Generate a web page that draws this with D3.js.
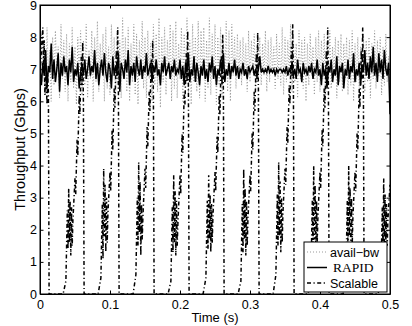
<!DOCTYPE html>
<html>
<head>
<meta charset="utf-8">
<script src="https://cdn.jsdelivr.net/npm/d3@7"></script>
<style>
  body { margin: 0; background: #fff; }
  svg { display: block; }
  text { font-family: "Liberation Sans", Arial, Helvetica, sans-serif; }
</style>
</head>
<body>
<svg id="chart"></svg>
<script>
// sampled every 2 ms from 0 to 0.5 s
const sampleStep = 0.002

const availBw = [
  7.0, 8.1, 6.6, 7.8, 6.2, 8.3, 6.8, 7.6, 6.0, 8.0,
  6.5, 8.2, 6.9, 7.7, 6.1, 8.4, 6.7, 7.9, 6.3, 8.1,
  6.0, 7.8, 6.6, 8.3, 6.4, 7.7, 5.9, 8.0, 6.8, 8.2,
  6.2, 7.9, 6.5, 8.4, 6.1, 7.6, 6.7, 8.2, 6.0, 8.0,
  6.6, 8.5, 6.3, 7.8, 6.9, 8.1, 6.0, 8.3, 6.4, 7.7,
  6.2, 8.4, 6.8, 8.0, 5.9, 8.2, 6.5, 7.9, 6.1, 8.6,
  6.7, 8.0, 6.3, 8.3, 6.0, 7.8, 6.6, 8.4, 6.2, 8.1,
  5.9, 7.9, 6.8, 8.5, 6.4, 8.0, 6.1, 8.2, 6.7, 7.8,
  6.0, 8.4, 6.5, 8.1, 6.3, 8.6, 5.8, 8.0, 6.6, 8.3,
  6.2, 7.9, 6.9, 8.4, 6.0, 8.2, 6.4, 8.5, 6.1, 7.8,
  6.7, 8.3, 6.0, 8.1, 6.5, 8.6, 6.2, 7.9, 5.9, 8.4,
  6.6, 8.0, 6.3, 8.5, 6.1, 8.2, 6.8, 8.3, 6.0, 7.9,
  6.4, 8.6, 6.2, 8.1, 6.7, 8.4, 5.9, 8.0, 6.5, 8.3,
  6.1, 7.9, 6.6, 8.5, 6.3, 8.2, 6.0, 8.4, 6.8, 8.0,
  6.4, 8.1, 6.7, 7.9, 6.5, 8.0, 6.8, 7.8, 6.3, 8.2,
  6.6, 7.9, 6.9, 8.1, 6.4, 7.7, 6.7, 8.0, 6.5, 7.8,
  6.8, 8.2, 6.3, 7.9, 6.6, 8.0, 6.9, 7.7, 6.4, 8.1,
  6.7, 7.8, 6.5, 8.3, 6.2, 8.0, 6.6, 7.9, 6.8, 8.4,
  6.3, 8.0, 6.6, 7.8, 6.1, 8.2, 6.7, 7.9, 6.4, 8.0,
  6.0, 7.8, 6.5, 8.1, 6.8, 7.7, 6.2, 8.0, 6.6, 8.2,
  6.3, 7.9, 6.7, 8.1, 6.0, 7.8, 6.5, 8.2, 6.4, 7.7,
  6.8, 8.0, 6.1, 7.9, 6.6, 8.1, 6.3, 7.8, 6.7, 8.0,
  6.2, 7.9, 6.5, 8.2, 6.0, 7.8, 6.6, 8.0, 6.4, 7.7,
  6.9, 8.1, 6.3, 7.9, 6.6, 8.0, 6.1, 7.8, 6.7, 8.2,
  6.4, 7.9, 6.8, 8.0, 6.2, 7.7, 6.5, 8.1, 6.6, 7.4,
  6.0
]

const rapid = [
  7.0, 6.5, 7.2, 6.8, 7.6, 6.4, 7.1, 6.9, 7.8, 6.7,
  7.3, 6.6, 7.0, 7.5, 6.3, 7.2, 6.8, 7.4, 6.9, 7.1,
  6.5, 7.3, 6.9, 7.7, 6.6, 7.0, 6.8, 7.2, 6.4, 6.9,
  7.1, 6.8, 7.3, 6.7, 7.0, 7.4, 6.8, 7.1, 6.9, 7.6,
  6.7, 7.2, 6.5, 7.0, 7.3, 6.8, 7.5, 6.9, 6.6, 7.2,
  7.0, 6.4, 7.4, 6.8, 7.1, 6.9, 7.5, 6.3, 7.2, 7.0,
  6.7, 7.3, 6.9, 7.6, 6.5, 7.1, 6.8, 7.2, 6.6, 7.4,
  7.0, 6.8, 7.3, 6.7, 7.1, 6.9, 7.5, 6.8, 7.0, 7.2,
  6.6, 7.1, 6.9, 7.3, 6.8, 7.0, 6.5, 7.2, 6.9, 7.4,
  6.8, 7.0, 7.2, 6.7, 7.1, 6.9, 7.3, 6.8, 7.0, 6.9,
  7.3, 6.7, 7.1, 6.5, 7.2, 6.9, 7.5, 6.6, 7.0, 6.8,
  7.4, 6.6, 7.2, 6.9, 6.5, 7.1, 6.8, 7.3, 6.7, 7.0,
  6.6, 7.2, 6.9, 7.4, 6.7, 7.1, 6.5, 7.0, 6.8, 7.3,
  6.9, 7.5, 6.6, 7.0, 6.8, 7.2, 6.7, 7.1, 6.9, 7.3,
  6.8, 7.1, 6.7, 7.0, 6.9, 7.2, 6.8, 7.0, 6.7, 7.1,
  6.9, 7.0, 7.1, 6.8, 7.0, 6.8, 7.0, 7.4, 6.9, 7.0,
  6.9, 7.0, 6.9, 7.1, 6.9, 7.0, 6.9, 7.0, 6.8, 7.0,
  6.9, 7.0, 7.0, 6.9, 7.0, 6.9, 7.1, 6.8, 7.0, 6.9,
  7.2, 6.8, 7.0, 6.7, 7.3, 6.9, 7.0, 6.6, 7.2, 6.9,
  7.0, 6.8, 7.1, 6.9, 7.2, 6.7, 7.0, 6.9, 7.3, 6.8,
  7.0, 6.5, 7.2, 6.8, 7.0, 6.4, 7.1, 6.9, 7.3, 6.6,
  7.0, 6.8, 7.4, 6.5, 7.1, 6.9, 7.2, 6.4, 7.0, 6.8,
  7.3, 6.7, 7.1, 6.9, 7.5, 6.6, 7.0, 6.8, 7.2, 6.5,
  7.1, 6.9, 7.6, 6.8, 7.2, 6.7, 7.4, 6.9, 7.7, 6.8,
  7.2, 6.6, 7.5, 6.9, 7.3, 6.7, 7.6, 7.0, 6.8, 7.2,
  5.6
]

// Scalable TCP, irregular samples (time in s, throughput in Gbps)
const scalableTime = [
  0, 0.002, 0.004, 0.005, 0.006, 0.007, 0.008, 0.010, 0.011, 0.012, 0.013,
  0.033, 0.037, 0.039, 0.040, 0.041, 0.042, 0.043, 0.044, 0.045, 0.046, 0.047, 0.050, 0.051, 0.053, 0.054, 0.056, 0.057, 0.059, 0.060, 0.061, 0.062, 0.063,
  0.083, 0.087, 0.089, 0.090, 0.091, 0.092, 0.093, 0.094, 0.095, 0.096, 0.097, 0.100, 0.101, 0.103, 0.104, 0.106, 0.107, 0.109, 0.110, 0.111, 0.112, 0.113,
  0.133, 0.137, 0.139, 0.140, 0.141, 0.142, 0.143, 0.144, 0.145, 0.146, 0.147, 0.150, 0.151, 0.153, 0.154, 0.156, 0.157, 0.159, 0.160, 0.161, 0.162, 0.163,
  0.183, 0.187, 0.189, 0.190, 0.191, 0.192, 0.193, 0.194, 0.195, 0.196, 0.197, 0.200, 0.201, 0.203, 0.204, 0.206, 0.207, 0.209, 0.210, 0.211, 0.212, 0.213,
  0.233, 0.237, 0.239, 0.240, 0.241, 0.242, 0.243, 0.244, 0.245, 0.246, 0.247, 0.250, 0.251, 0.253, 0.254, 0.256, 0.257, 0.259, 0.260, 0.261, 0.262, 0.263,
  0.283, 0.287, 0.289, 0.290, 0.291, 0.292, 0.293, 0.294, 0.295, 0.296, 0.297, 0.300, 0.301, 0.303, 0.304, 0.306, 0.307, 0.309, 0.310, 0.311, 0.312, 0.313,
  0.333, 0.337, 0.339, 0.340, 0.341, 0.342, 0.343, 0.344, 0.345, 0.346, 0.347, 0.350, 0.351, 0.353, 0.354, 0.356, 0.357, 0.359, 0.360, 0.361, 0.362, 0.363,
  0.383, 0.387, 0.389, 0.390, 0.391, 0.392, 0.393, 0.394, 0.395, 0.396, 0.397, 0.400, 0.401, 0.403, 0.404, 0.406, 0.407, 0.409, 0.410, 0.411, 0.412, 0.413,
  0.433, 0.437, 0.439, 0.440, 0.441, 0.442, 0.443, 0.444, 0.445, 0.446, 0.447, 0.450, 0.451, 0.453, 0.454, 0.456, 0.457, 0.459, 0.460, 0.461, 0.462, 0.463,
  0.483, 0.487, 0.489, 0.490, 0.491, 0.492, 0.493, 0.494, 0.495, 0.496, 0.497, 0.500
]
const scalableValue = [
  6.8, 7.6, 8.3, 6.9, 7.9, 6.2, 7.2, 5.9, 6.8, 6.3, 0,
  0, 0.4, 2.6, 1.4, 3.3, 1.6, 2.9, 1.2, 2.7, 1.5, 2.3, 3.6, 3.1, 4.8, 4.3, 6.2, 5.6, 7.4, 6.5, 7.85, 6.0, 0,
  0, 0.5, 2.8, 1.1, 3.9, 1.8, 3.4, 1.3, 3.0, 1.6, 2.5, 3.8, 3.2, 5.1, 4.5, 6.4, 5.8, 7.6, 6.7, 8.3, 6.4, 0,
  0, 0.6, 3.0, 1.5, 4.1, 1.9, 3.5, 1.2, 2.8, 1.7, 2.4, 3.9, 3.3, 5.2, 4.6, 6.3, 5.7, 7.3, 6.6, 7.9, 6.2, 0,
  0, 0.4, 2.7, 1.3, 3.7, 1.6, 3.2, 1.2, 2.9, 1.5, 2.2, 3.7, 3.1, 5.0, 4.4, 6.3, 5.9, 7.5, 6.6, 8.2, 6.5, 0,
  0, 0.5, 2.9, 1.4, 3.7, 1.7, 3.1, 1.3, 2.8, 1.6, 2.4, 3.8, 3.2, 4.9, 4.4, 6.2, 5.6, 7.4, 6.5, 8.1, 6.3, 0,
  0, 0.4, 2.8, 1.3, 3.9, 1.7, 3.3, 1.2, 2.9, 1.5, 2.3, 3.7, 3.2, 5.0, 4.5, 6.3, 5.7, 7.5, 6.6, 8.15, 6.4, 0,
  0, 0.6, 3.1, 1.5, 4.1, 1.8, 3.5, 1.3, 3.0, 1.6, 2.5, 3.9, 3.4, 5.2, 4.7, 6.5, 5.9, 7.7, 6.8, 8.4, 6.6, 0,
  0, 0.5, 2.9, 1.4, 4.0, 1.7, 3.4, 1.2, 2.9, 1.6, 2.4, 3.8, 3.3, 5.1, 4.6, 6.4, 5.8, 7.6, 6.7, 8.3, 6.5, 0,
  0, 0.5, 2.9, 1.3, 4.0, 1.8, 3.3, 1.2, 3.0, 1.5, 2.4, 3.8, 3.2, 5.0, 4.5, 6.4, 5.8, 7.6, 6.7, 8.3, 6.4, 0,
  0, 0.5, 2.7, 1.3, 3.6, 1.6, 3.1, 1.2, 2.8, 1.5, 2.3, 3.4
]

const xTicks = [0, 0.1, 0.2, 0.3, 0.4, 0.5]
const yTicks = [0, 1, 2, 3, 4, 5, 6, 7, 8, 9]
const seriesNames = ['avail\u2212bw', 'RAPID', 'Scalable']

const width = 412
const height = 326
const margin = { top: 5, right: 22, bottom: 32, left: 40 }
const plotW = width - margin.left - margin.right
const plotH = height - margin.top - margin.bottom

const svg = d3.select('#chart')
  .attr('width', width)
  .attr('height', height)

const g = svg.append('g')
  .attr('transform', 'translate(' + margin.left + ',' + margin.top + ')')

const x = d3.scaleLinear().domain([0, 0.5]).range([0, plotW])
const y = d3.scaleLinear().domain([0, 9]).range([plotH, 0])

g.append('clipPath').attr('id', 'clip')
  .append('rect').attr('width', plotW).attr('height', plotH)

const gridded = arr => arr.map((v, i) => [i * sampleStep, v])
const scalable = scalableTime.map((t, i) => [t, scalableValue[i]])

const line = d3.line().x(d => x(d[0])).y(d => y(d[1]))

const plot = g.append('g').attr('clip-path', 'url(#clip)')

const styles = [
  { stroke: '#999', dash: '1,2', width: 1 },
  { stroke: '#000', dash: null, width: 1.5 },
  { stroke: '#000', dash: '4,2.5,1.2,2.5', width: 1.5 }
]

;[gridded(availBw), gridded(rapid), scalable].forEach((data, i) => {
  plot.append('path')
    .datum(data)
    .attr('d', line)
    .attr('fill', 'none')
    .attr('stroke', styles[i].stroke)
    .attr('stroke-width', styles[i].width)
    .attr('stroke-dasharray', styles[i].dash)
})

// axes, MATLAB style: ticks pointing inward on all four sides
const fmtX = d => d === 0 ? '0' : d3.format('.1f')(d)
const tickLen = -3.5

g.append('g')
  .attr('transform', 'translate(0,' + plotH + ')')
  .call(d3.axisBottom(x).tickValues(xTicks).tickFormat(fmtX).tickSizeInner(tickLen).tickSizeOuter(0).tickPadding(6))
g.append('g')
  .call(d3.axisTop(x).tickValues(xTicks).tickFormat('').tickSizeInner(tickLen).tickSizeOuter(0))
g.append('g')
  .call(d3.axisLeft(y).tickValues(yTicks).tickFormat(d3.format('d')).tickSizeInner(tickLen).tickSizeOuter(0).tickPadding(3))
g.append('g')
  .attr('transform', 'translate(' + plotW + ',0)')
  .call(d3.axisRight(y).tickValues(yTicks).tickFormat('').tickSizeInner(tickLen).tickSizeOuter(0))

g.selectAll('.tick text')
  .style('font-family', '"Liberation Sans", Arial, sans-serif')
  .style('font-size', '12.5px')
  .attr('fill', '#000')
g.selectAll('.domain').attr('stroke', '#000')
g.selectAll('.tick line').attr('stroke', '#000')

g.append('rect')
  .attr('width', plotW).attr('height', plotH)
  .attr('fill', 'none').attr('stroke', '#000').attr('stroke-width', 1)

svg.append('text')
  .attr('x', margin.left + plotW / 2)
  .attr('y', 322)
  .attr('text-anchor', 'middle')
  .style('font-size', '13px')
  .text('Time (s)')

svg.append('text')
  .attr('transform', 'translate(25,' + (margin.top + plotH / 2) + ') rotate(-90)')
  .attr('text-anchor', 'middle')
  .style('font-size', '14.5px')
  .text('Throughput (Gbps)')

// legend
const legend = svg.append('g').attr('transform', 'translate(304,242)')
legend.append('rect')
  .attr('width', 83).attr('height', 50)
  .attr('fill', '#fff').attr('stroke', '#000').attr('stroke-width', 1)

seriesNames.forEach((name, i) => {
  const cy = 10 + i * 15.5
  legend.append('line')
    .attr('x1', 3).attr('x2', 23).attr('y1', cy).attr('y2', cy)
    .attr('stroke', styles[i].stroke)
    .attr('stroke-width', styles[i].width)
    .attr('stroke-dasharray', styles[i].dash)
  legend.append('text')
    .attr('x', name === 'RAPID' ? 29 : 26)
    .attr('y', cy)
    .attr('dy', '0.36em')
    .style('font-family', name === 'RAPID' ? '"Liberation Serif", "Times New Roman", serif' : null)
    .style('font-size', name === 'RAPID' ? '13.5px' : '12.5px')
    .text(name)
})
</script>
</body>
</html>
